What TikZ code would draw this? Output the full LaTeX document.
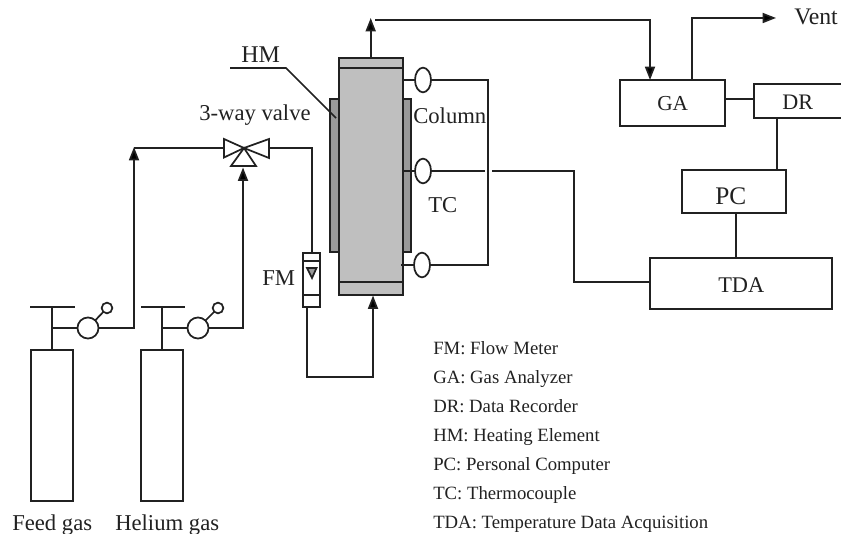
\documentclass[tikz,border=0pt]{standalone}
\usepackage{fontspec}
\setmainfont{Liberation Serif}
\usetikzlibrary{arrows.meta,calc,shapes.geometric}
\definecolor{colgray}{gray}{0.75}
\definecolor{heatgray}{gray}{0.6}
\definecolor{inkc}{gray}{0.13}
\tikzset{
  x=0.75pt,y=-0.75pt,
  ln/.style={draw=inkc,line width=1.3pt,line join=miter},
  arr/.style={ln,-{Triangle[length=10pt,width=7.5pt,fill=black]}},
  lab/.style={font=\fontsize{17pt}{19pt}\selectfont,text=inkc,inner sep=0pt,anchor=base west},
  leg/.style={font=\fontsize{14.05pt}{15pt}\selectfont,text=inkc,inner sep=0pt,anchor=base west},
  boxn/.style={ln,fill=white,rectangle,inner sep=0pt,outer sep=0pt},
  tcn/.style={ln,fill=white,ellipse,minimum width=12pt,minimum height=18.5pt,inner sep=0pt,outer sep=0pt},
  knob/.style={ln,fill=white,circle,inner sep=0pt,outer sep=0pt,minimum size=#1},
}
\newcommand{\boxat}[6][]{% name, x1,y1,x2,y2
  \node[boxn,#1,minimum width={(#5-#3)*0.75pt},minimum height={(#6-#4)*0.75pt}] (#2) at ({(#3+#5)/2},{(#4+#6)/2}) {};}
\begin{document}
\begin{tikzpicture}
\useasboundingbox (0,0) rectangle (841,534);
% gas cylinders
\boxat{cyla}{31}{350}{73}{501}
\boxat{cylb}{141}{350}{183}{501}
\coordinate (bara) at (52,307); \coordinate (barb) at (162,307);
\draw[ln] (30,307) -- (75,307);
\draw[ln] (141,307) -- (185,307);
\draw[ln] (bara) -- (cyla.north -| bara);
\draw[ln] (barb) -- (cylb.north -| barb);
\node[knob=15.8pt] (va) at (88,328) {};
\node[knob=15.8pt] (vb) at (198,328) {};
\node[knob=8pt] (ka) at (107,308) {};
\node[knob=8pt] (kb) at (218,308) {};
\draw[ln] (va) -- (ka);
\draw[ln] (vb) -- (kb);
\draw[ln] (52,328) -- (va);
\draw[ln] (162,328) -- (vb);
\coordinate (vc) at (244,148);
% 3-way valve
\coordinate (vl) at (224,148); \coordinate (vr) at (269,148);
\draw[ln,fill=white] (vc) -- (224,139) -- (224,157.5) -- cycle;
\draw[ln,fill=white] (vc) -- (269,139) -- (269,158) -- cycle;
\draw[ln,fill=white] (vc) -- (256,166) -- (231,166) -- cycle;
\draw[arr] (va) -- (134,328) -- (134,147);
\draw[ln] (134,148) -- (vl);
\draw[arr] (vb) -- (243,328) -- (243,167.5);
% column and heater
\boxat[fill=heatgray]{heat}{330}{99}{411}{252}
\boxat[fill=colgray]{col}{338.7}{58}{403}{295}
\draw[ln] (338.7,68) -- (403,68);
\draw[ln] (338.7,282) -- (403,282);
% flow meter
\boxat{fm}{303}{253}{320}{307}
\draw[ln] (303,261) -- (320,261);
\draw[ln] (303,295) -- (320,295);
\draw[ln,fill=heatgray] (307,268) -- (316.5,268) -- (312,278) -- cycle;
\draw[ln] (vr) -- (312,148) -- (312,253);
\coordinate (fmb) at (307,307);
\draw[arr] (fmb) -- (307,377) -- (373,377) -- (373,295.5);
% analyser side
\boxat{ga}{620}{80}{725}{126}
\boxat{dr}{754}{84}{850}{118}
\boxat{pc}{682}{170}{786}{213}
\boxat{tda}{650}{258}{832}{309}
\draw[arr] (375,20) -- (650,20) -- (650,80);
\draw[arr] (692,80) -- (692,18) -- (776,18);
\draw[arr] (370.7,58) -- (370.7,18);
\draw[ln] (ga.east |- 0,99) -- (dr.west |- 0,99);
\draw[ln] (777,118) -- (777,170);
\draw[ln] (736,213) -- (736,258);
% thermocouples
\node[tcn] (t1) at (423,80) {};
\node[tcn] (t2) at (423,171) {};
\node[tcn] (t3) at (422,265) {};
\draw[ln] (403,80) -- (t1);
\draw[ln] (403,171) -- (t2);
\draw[ln] (401,265) -- (t3);
\draw[ln] (t1) -- (488,80) -- (488,265) -- (t3);
\draw[ln] (t2) -- (485,171);
\draw[ln] (492,171) -- (574,171) -- (574,282) -- (650,282);
% HM leader
\draw[ln] (230,68) -- (286,68) -- (336,118);
% labels
\node[lab,font=\fontsize{18pt}{20pt}\selectfont] at (241,63) {HM};
\node[lab] at (199,121) {3-way valve};
\node[lab] at (413,124) {Column};
\node[lab] at (428,213) {TC};
\node[lab] at (262,286) {FM};
\node[lab,font=\fontsize{17.8pt}{20pt}\selectfont] at (794,25) {Vent};
\node[lab,font=\fontsize{16pt}{18pt}\selectfont] at (657,111) {GA};
\node[lab,font=\fontsize{16.6pt}{18pt}\selectfont] at (782,110) {DR};
\node[lab,font=\fontsize{19pt}{21pt}\selectfont] at (715,205) {PC};
\node[lab,font=\fontsize{16.8pt}{18pt}\selectfont] at (718,292) {TDA};
\node[lab] at (12,530) {Feed gas};
\node[lab] at (115,530) {Helium gas};
\node[leg] at (433,354) {FM: Flow Meter};
\node[leg] at (433,383) {GA: Gas Analyzer};
\node[leg] at (433,412) {DR: Data Recorder};
\node[leg] at (433,441) {HM: Heating Element};
\node[leg] at (433,470) {PC: Personal Computer};
\node[leg] at (433,499) {TC: Thermocouple};
\node[leg] at (433,528) {TDA: Temperature Data Acquisition};
\end{tikzpicture}
\end{document}
